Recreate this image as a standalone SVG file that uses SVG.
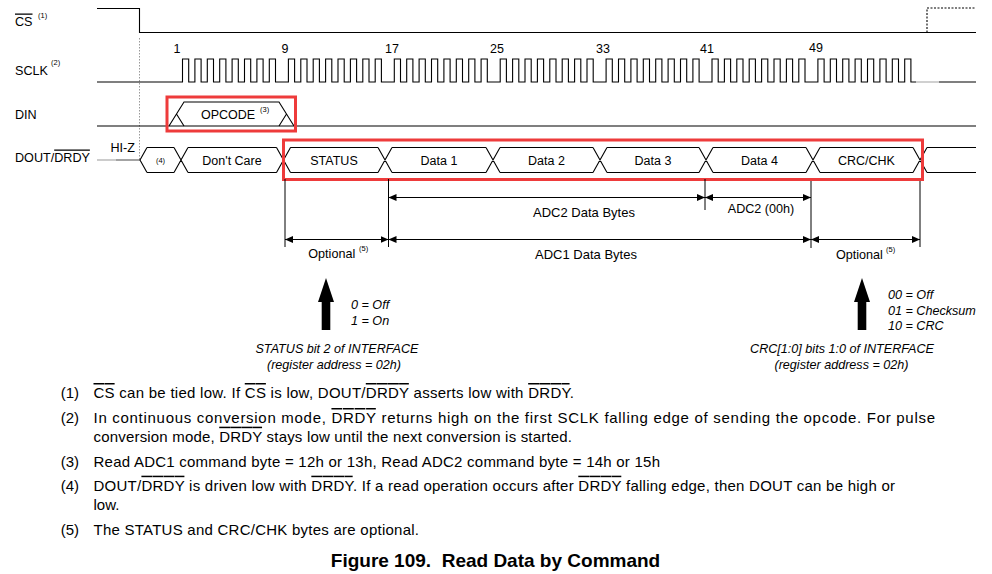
<svg xmlns="http://www.w3.org/2000/svg" width="992" height="574" viewBox="0 0 992 574">
<style>
  text { font-family: "Liberation Sans", Arial, sans-serif; fill: #000; }
  .lbl { font-size: 12.6px; }
  .num { font-size: 12.5px; text-anchor: middle; }
  .bus { font-size: 12.5px; text-anchor: middle; }
  .sup { font-size: 7.5px; }
  .dim { font-size: 12.6px; }
  .dimb { font-size: 13px; }
  .it { font-size: 12.6px; font-style: italic; }
  .note { font-size: 15px; }
  .ov { text-decoration: overline; }
  .w { fill: none; stroke: #000; stroke-width: 1.1; }
  .red { fill: none; stroke: #EE3B3B; stroke-width: 3; }
  .d { fill: none; stroke: #000; stroke-width: 1; marker-start: url(#ah); marker-end: url(#ah); }
  .v { fill: none; stroke: #000; stroke-width: 1; }
</style>
<defs>
  <marker id="ah" markerWidth="8" markerHeight="7" refX="8" refY="3.5" orient="auto-start-reverse" markerUnits="userSpaceOnUse">
    <path d="M0,0 L8,3.5 L0,7 z" fill="#000"/>
  </marker>
</defs>
<rect width="992" height="574" fill="#fff"/>

<g id="labels">
  <text class="lbl" x="15" y="25.5"><tspan class="ov">CS</tspan></text>
  <text class="sup" x="38" y="18">(1)</text>
  <text class="lbl" x="15" y="75">SCLK</text>
  <text class="sup" x="51" y="65">(2)</text>
  <text class="lbl" x="15" y="119">DIN</text>
  <text class="lbl" x="15" y="161.5">DOUT/<tspan class="ov">DRDY</tspan></text>
  <text class="lbl" x="110.5" y="151.5">HI-Z</text>
</g>

<g id="cs">
  <path class="w" d="M97,8.5H139.5V32.5H976" stroke="#444"/>
  <path class="w" d="M927,32.5V8H976" stroke-dasharray="2,1.5"/>
  <path d="M139.5,38V160" fill="none" stroke="#999" stroke-width="1" stroke-dasharray="1.5,1.5"/>
</g>

<g id="sclk">
  <path class="w" d="M97,82H182.5
  v-23h6.2v23h6.2v-23h6.2v23h6.2v-23h6.2v23h6.2v-23h6.2v23h6.2v-23h6.2v23h6.2v-23h6.2v23h6.2v-23h6.2v23h6.2v-23h6.2v23h6.2h6.7
  v-23h6.2v23h6.2v-23h6.2v23h6.2v-23h6.2v23h6.2v-23h6.2v23h6.2v-23h6.2v23h6.2v-23h6.2v23h6.2v-23h6.2v23h6.2v-23h6.2v23h6.2h6.7
  v-23h6.2v23h6.2v-23h6.2v23h6.2v-23h6.2v23h6.2v-23h6.2v23h6.2v-23h6.2v23h6.2v-23h6.2v23h6.2v-23h6.2v23h6.2v-23h6.2v23h6.2h6.7
  v-23h6.2v23h6.2v-23h6.2v23h6.2v-23h6.2v23h6.2v-23h6.2v23h6.2v-23h6.2v23h6.2v-23h6.2v23h6.2v-23h6.2v23h6.2v-23h6.2v23h6.2h6.7
  v-23h6.2v23h6.2v-23h6.2v23h6.2v-23h6.2v23h6.2v-23h6.2v23h6.2v-23h6.2v23h6.2v-23h6.2v23h6.2v-23h6.2v23h6.2v-23h6.2v23h6.2h6.7
  v-23h6.2v23h6.2v-23h6.2v23h6.2v-23h6.2v23h6.2v-23h6.2v23h6.2v-23h6.2v23h6.2v-23h6.2v23h6.2v-23h6.2v23h6.2v-23h6.2v23h6.2h6.7
  v-23h6.2v23h6.2v-23h6.2v23h6.2v-23h6.2v23h6.2v-23h6.2v23h6.2v-23h6.2v23h6.2v-23h6.2v23h6.2v-23h6.2v23h6.2v-23h6.2v23H916"/>
  <path d="M916,82H939" fill="none" stroke="#aaa" stroke-width="1.1"/>
  <path class="w" d="M939,82H976"/>
  <text class="num" x="177" y="53">1</text>
  <text class="num" x="285" y="53">9</text>
  <text class="num" x="392" y="53">17</text>
  <text class="num" x="497" y="53">25</text>
  <text class="num" x="603" y="53">33</text>
  <text class="num" x="707" y="53">41</text>
  <text class="num" x="816" y="52">49</text>
</g>

<g id="din">
  <path class="w" d="M97,126H976"/>
  <path class="w" d="M169,126L184,102H279L294,126M176.5,114L184,126M279,126L286.5,114"/>
  <text class="bus" x="228" y="119">OPCODE</text>
  <text class="sup" x="260" y="112">(3)</text>
  <rect class="red" x="167" y="97" width="128.5" height="34"/>
</g>

<g id="dout">
  <path d="M97,160H116" fill="none" stroke="#aaa" stroke-width="1.2"/>
  <path d="M116,160H140" fill="none" stroke="#666" stroke-width="1.2"/>
  <path class="w" d="M147,147.5L140,160L147,172.5
    M147,147.5H174M147,172.5H174
    M174,147.5L188,172.5M174,172.5L188,147.5
    M188,147.5H276.5M188,172.5H276.5
    M276.5,147.5L290.5,172.5M276.5,172.5L290.5,147.5
    M290.5,147.5H378M290.5,172.5H378
    M378,147.5L392,172.5M378,172.5L392,147.5
    M392,147.5H486M392,172.5H486
    M486,147.5L500,172.5M486,172.5L500,147.5
    M500,147.5H593M500,172.5H593
    M593,147.5L607,172.5M593,172.5L607,147.5
    M607,147.5H699M607,172.5H699
    M699,147.5L713,172.5M699,172.5L713,147.5
    M713,147.5H806M713,172.5H806
    M806,147.5L820,172.5M806,172.5L820,147.5
    M820,147.5H913M820,172.5H913
    M913,147.5L927,172.5M913,172.5L927,147.5
    M927,147.5H976M927,172.5H976"/>
  <text class="sup" x="160.5" y="163" text-anchor="middle">(4)</text>
  <text class="bus" x="232" y="164.5">Don't Care</text>
  <text class="bus" x="334" y="164.5">STATUS</text>
  <text class="bus" x="439" y="164.5">Data 1</text>
  <text class="bus" x="546.5" y="164.5">Data 2</text>
  <text class="bus" x="653" y="164.5">Data 3</text>
  <text class="bus" x="759.5" y="164.5">Data 4</text>
  <text class="bus" x="866.5" y="164.5">CRC/CHK</text>
  <rect class="red" x="283.5" y="140" width="639" height="39.5"/>
</g>

<g id="connectors">
  <path class="v" d="M285,179V247M388.5,179V247M705,179V210M811,181V248M920,181V247"/>
  <path class="d" d="M388.5,197.5H705"/>
  <path class="d" d="M705,197.5H811"/>
  <path class="d" d="M285,239.5H388.5"/>
  <path class="d" d="M388.5,239.5H811"/>
  <path class="d" d="M811,239.5H920"/>
</g>

<g id="dimlabels">
  <text class="dimb" x="584" y="216.5" text-anchor="middle">ADC2 Data Bytes</text>
  <text class="dim" x="761" y="213.3" text-anchor="middle">ADC2 (00h)</text>
  <text class="dimb" x="586" y="259.3" text-anchor="middle">ADC1 Data Bytes</text>
  <text class="dim" x="308.3" y="258.3">Optional</text>
  <text class="sup" x="359" y="251">(5)</text>
  <text class="dim" x="836" y="259.3">Optional</text>
  <text class="sup" x="886" y="252">(5)</text>
</g>

<g id="status-arrow">
  <path d="M326,278L334,302H330.3V330H321.7V302H318Z" fill="#000"/>
  <text class="it" x="351" y="309">0 = Off</text>
  <text class="it" x="351" y="325">1 = On</text>
  <text class="it" x="337" y="353" text-anchor="middle">STATUS bit 2 of INTERFACE</text>
  <text class="it" x="334" y="369" text-anchor="middle">(register address = 02h)</text>
</g>

<g id="crc-arrow">
  <path d="M862,278L870,302H866.3V330H857.7V302H854Z" fill="#000"/>
  <text class="it" x="888" y="299">00 = Off</text>
  <text class="it" x="888" y="314.5">01 = Checksum</text>
  <text class="it" x="888" y="330">10 = CRC</text>
  <text class="it" x="842" y="353" text-anchor="middle">CRC[1:0] bits 1:0 of INTERFACE</text>
  <text class="it" x="841.5" y="369" text-anchor="middle">(register address = 02h)</text>
</g>

<g id="notes">
  <text class="note" x="60.7" y="398">(1)</text>
  <text class="note" x="93.5" y="398" textLength="480.5" lengthAdjust="spacing"><tspan class="ov">CS</tspan> can be tied low. If <tspan class="ov">CS</tspan> is low, DOUT/<tspan class="ov">DRDY</tspan> asserts low with <tspan class="ov">DRDY</tspan>.</text>
  <text class="note" x="60.7" y="423">(2)</text>
  <text class="note" x="93.5" y="423" textLength="841.5" lengthAdjust="spacing">In continuous conversion mode, <tspan class="ov">DRDY</tspan> returns high on the first SCLK falling edge of sending the opcode. For pulse</text>
  <text class="note" x="93.5" y="441.7" textLength="478.5" lengthAdjust="spacing">conversion mode, <tspan class="ov">DRDY</tspan> stays low until the next conversion is started.</text>
  <text class="note" x="60.7" y="466.7">(3)</text>
  <text class="note" x="93.5" y="466.7" textLength="566.5" lengthAdjust="spacing">Read ADC1 command byte = 12h or 13h, Read ADC2 command byte = 14h or 15h</text>
  <text class="note" x="60.7" y="490.7">(4)</text>
  <text class="note" x="93.5" y="490.7" textLength="801.5" lengthAdjust="spacing">DOUT/<tspan class="ov">DRDY</tspan> is driven low with <tspan class="ov">DRDY</tspan>. If a read operation occurs after <tspan class="ov">DRDY</tspan> falling edge, then DOUT can be high or</text>
  <text class="note" x="93.5" y="510">low.</text>
  <text class="note" x="60.7" y="535">(5)</text>
  <text class="note" x="93.5" y="535" textLength="325.5" lengthAdjust="spacing">The STATUS and CRC/CHK bytes are optional.</text>
  <text x="495.5" y="566.7" text-anchor="middle" font-size="19" font-weight="bold" xml:space="preserve">Figure 109.  Read Data by Command</text>
</g>
</svg>
